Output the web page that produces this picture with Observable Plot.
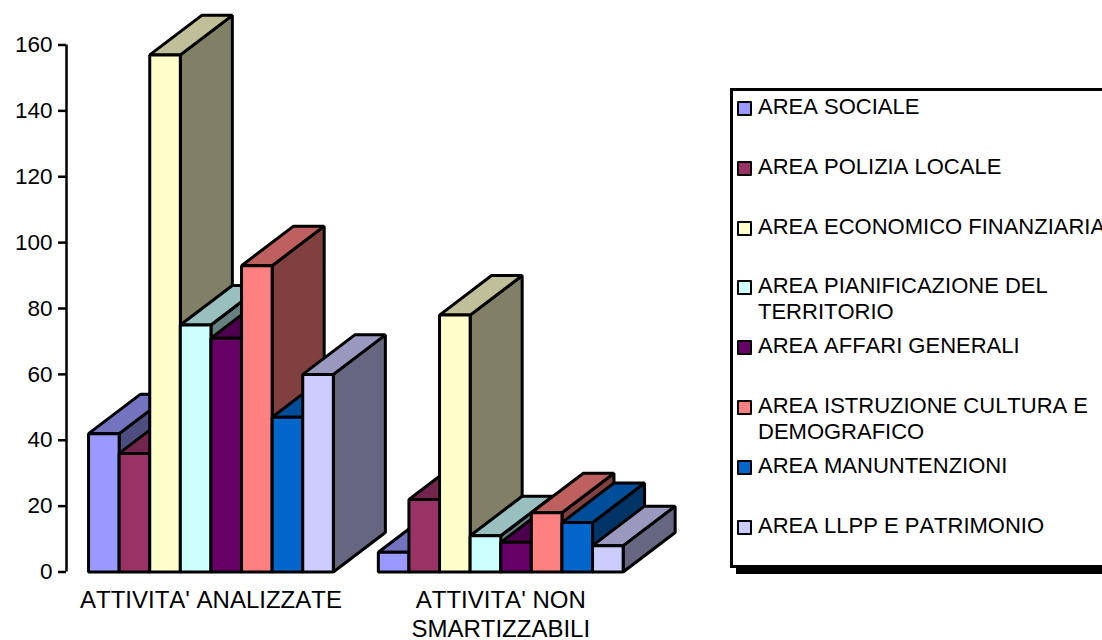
<!DOCTYPE html>
<html lang="it">
<head>
<meta charset="utf-8">
<script src="https://cdn.jsdelivr.net/npm/d3@7"></script>
<script src="https://cdn.jsdelivr.net/npm/@observablehq/plot@0.6"></script>
<style>
  html, body { margin: 0; padding: 0; background: #fff; width: 1102px; height: 640px; overflow: hidden; }
  body { position: relative; font-family: "Liberation Sans", Arial, sans-serif; color: #000; font-kerning: none; }
  #chart { position: absolute; left: 0; top: 0; }
  #chart text { font-kerning: none; }
  #legend {
    position: absolute; left: 730px; top: 88px; width: 400px; height: 480px;
    box-sizing: border-box; border: 3px solid #000; background: #fff;
    box-shadow: 6px 6px 0 #000; padding-top: 3px;
  }
  .row { display: flex; align-items: flex-start; height: 59.8px; font-size: 22px; line-height: 26px; white-space: pre; }
  .swatch { width: 11px; height: 11px; border: 2px solid #000; border-radius: 1px; margin: 7px 6px 0 4px; flex: none; }
</style>
</head>
<body>
<div id="chart"></div>
<div id="legend"></div>
<script>
// Activity counts per municipal area, one array per category.
const categories = ["ATTIVITA' ANALIZZATE", "ATTIVITA' NON\nSMARTIZZABILI"];
const areas = [
  "AREA SOCIALE",
  "AREA POLIZIA LOCALE",
  "AREA ECONOMICO FINANZIARIA",
  "AREA PIANIFICAZIONE DEL\nTERRITORIO",
  "AREA AFFARI GENERALI",
  "AREA ISTRUZIONE CULTURA E\nDEMOGRAFICO",
  "AREA MANUNTENZIONI",
  "AREA LLPP E PATRIMONIO"
];
const analizzate = [42, 36, 157, 75, 71, 93, 47, 60];
const nonSmartizzabili = [6, 22, 78, 11, 9, 18, 15, 8];
const areaColors = ["#9999FF", "#993366", "#FFFFCC", "#CCFFFF", "#660066", "#FF8080", "#0066CC", "#CCCCFF"];
const yTicks = [0, 20, 40, 60, 80, 100, 120, 140, 160];

// Pseudo-3D layout, in scale units: x counts bar widths, y counts activities.
const groupStarts = [0.72, 10.19];
const depthX = 1.7;
const depthY = 12;

const shade = (color, k) => {
  const c = d3.rgb(color);
  return d3.rgb(c.r * k, c.g * k, c.b * k).formatHex();
};

// Each bar becomes three closed polygons, listed back to front so that
// later bars paint over the sides of the ones on their left.
const faces = [];
[analizzate, nonSmartizzabili].forEach((series, g) => {
  series.forEach((v, i) => {
    const x0 = groupStarts[g] + i, x1 = x0 + 1, color = areaColors[i];
    const add = (name, fill, pts) =>
      pts.forEach(([x, y]) => faces.push({face: `${g}-${i}-${name}`, fill, x, y}));
    add("side", shade(color, 0.5), [[x1, 0], [x1 + depthX, depthY], [x1 + depthX, v + depthY], [x1, v]]);
    add("top", shade(color, 0.75), [[x0, v], [x0 + depthX, v + depthY], [x1 + depthX, v + depthY], [x1, v]]);
    add("front", color, [[x0, 0], [x0, v], [x1, v], [x1, 0]]);
  });
});

const plot = Plot.plot({
  width: 730,
  height: 640,
  marginLeft: 66,
  marginRight: 3,
  marginTop: 44.5,
  marginBottom: 68.5,
  style: {fontFamily: "'Liberation Sans', Arial, sans-serif", fontSize: "22px", color: "#000", background: "transparent", overflow: "visible"},
  x: {domain: [0, 21.6]},
  y: {domain: [0, 160]},
  color: {type: "identity"},
  marks: [
    Plot.line(faces, {
      x: "x", y: "y", z: "face", fill: "fill",
      stroke: "#000", strokeWidth: 3, strokeLinejoin: "miter",
      curve: "linear-closed"
    }),
    Plot.ruleX([0], {stroke: "#000", strokeWidth: 2.5}),
    Plot.axisY({
      ticks: yTicks, tickSize: 8, tickPadding: 6, strokeWidth: 2.5,
      fontSize: 22.5, label: null, stroke: "#000", fill: "#000"
    }),
    Plot.axisX(groupStarts.map((s) => s + 4), {
      tickSize: 0, tickPadding: 16, fontSize: 24, lineHeight: 1.2, lineWidth: 40,
      label: null, stroke: null, fill: "#000",
      tickFormat: (d, i) => categories[i]
    })
  ]
});
document.getElementById("chart").append(plot);

// Legend box to the right of the plot.
const legend = d3.select("#legend");
areas.forEach((name, i) => {
  const row = legend.append("div").attr("class", "row");
  row.append("div").attr("class", "swatch").style("background", areaColors[i]);
  row.append("div").text(name);
});
</script>
</body>
</html>
